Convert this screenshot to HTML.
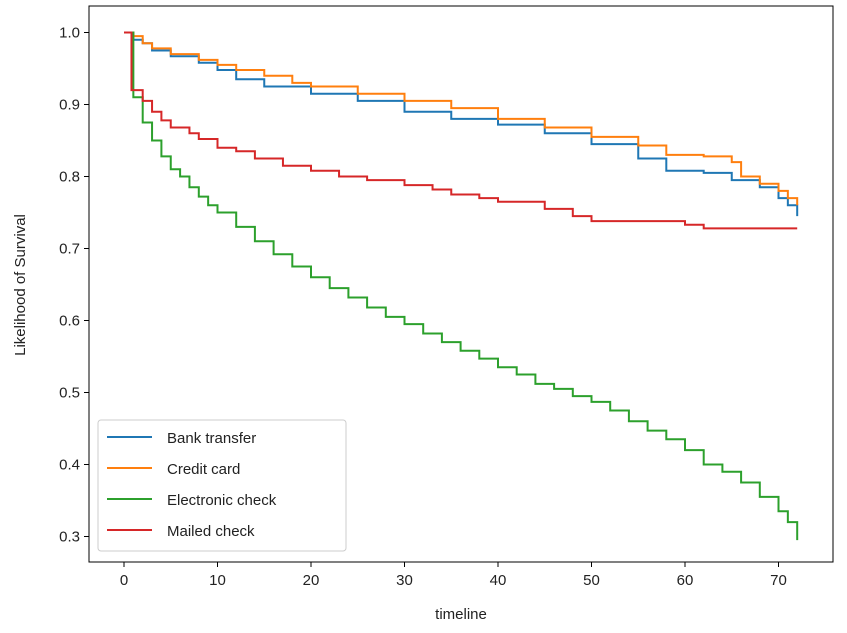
<!DOCTYPE html>
<html><head><meta charset="utf-8"><style>
body{margin:0;background:#fff;}
svg{display:block;font-family:"Liberation Sans","DejaVu Sans",sans-serif;}
</style></head><body>
<svg id="chart" width="847" height="633"></svg>
<script>
const bankT=[0,1,2,3,5,8,10,12,15,20,25,30,35,40,45,50,55,58,62,65,68,70,71,72];
const bankV=[1.0,0.99,0.985,0.975,0.967,0.958,0.948,0.935,0.925,0.915,0.905,0.89,0.88,0.872,0.86,0.845,0.825,0.808,0.805,0.795,0.785,0.77,0.76,0.745];
const creditT=[0,1,2,3,5,8,10,12,15,18,20,25,30,35,40,45,50,55,58,62,65,66,68,70,71,72];
const creditV=[1.0,0.995,0.985,0.978,0.97,0.962,0.955,0.948,0.94,0.93,0.925,0.915,0.905,0.895,0.88,0.868,0.855,0.843,0.83,0.828,0.82,0.8,0.79,0.78,0.77,0.76];
const echeckT=[0,1,2,3,4,5,6,7,8,9,10,12,14,16,18,20,22,24,26,28,30,32,34,36,38,40,42,44,46,48,50,52,54,56,58,60,62,64,66,68,70,71,72];
const echeckV=[1.0,0.91,0.875,0.85,0.828,0.81,0.8,0.785,0.772,0.76,0.75,0.73,0.71,0.692,0.675,0.66,0.645,0.632,0.618,0.605,0.595,0.582,0.57,0.558,0.547,0.535,0.525,0.512,0.505,0.495,0.487,0.475,0.46,0.447,0.435,0.42,0.4,0.39,0.375,0.355,0.335,0.32,0.295];
const mailedT=[0,0.8,2,3,4,5,7,8,10,12,14,17,20,23,26,30,33,35,38,40,45,48,50,55,60,62,72];
const mailedV=[1.0,0.92,0.905,0.89,0.878,0.868,0.86,0.852,0.84,0.835,0.825,0.815,0.808,0.8,0.795,0.788,0.782,0.775,0.77,0.765,0.755,0.745,0.738,0.738,0.733,0.728,0.728];
const seriesNames=["Bank transfer","Credit card","Electronic check","Mailed check"];
const xTicks=[0,10,20,30,40,50,60,70];
const yTicks=[0.3,0.4,0.5,0.6,0.7,0.8,0.9,1.0];

const NS="http://www.w3.org/2000/svg";
const svg=document.getElementById('chart');
const L=89,R=833,T=6,B=562;
const x=t=>124+t*9.35;
const y=v=>32.5+(1.0-v)*720;
function mk(tag,a){const e=document.createElementNS(NS,tag);for(const k in a)e.setAttribute(k,a[k]);svg.appendChild(e);return e;}

const frame=mk('rect',{x:L,y:T,width:R-L,height:B-T,fill:'none',stroke:'#000','stroke-width':1});



xTicks.forEach(t=>{
  const tk=mk('line',{x1:x(t),x2:x(t),y1:B,y2:B+5,stroke:'#000'});
  
  
  const tx=mk('text',{x:x(t),y:B+23,'text-anchor':'middle','font-size':15,fill:'#222'});
  tx.textContent=t;
  
  
});
yTicks.forEach(v=>{
  const tk=mk('line',{x1:L-5,x2:L,y1:y(v),y2:y(v),stroke:'#000'});
  
  
  const tx=mk('text',{x:L-9,y:y(v)+5,'text-anchor':'end','font-size':15,fill:'#222'});
  tx.textContent=v.toFixed(1);
  
  
});
const xl=mk('text',{x:461,y:619,'text-anchor':'middle','font-size':15,fill:'#222'});
xl.textContent='timeline';


const yl=mk('text',{x:0,y:0,'text-anchor':'middle','font-size':15,fill:'#222',transform:'translate(25,285) rotate(-90)'});
yl.textContent='Likelihood of Survival';



const colors=['#1f77b4','#ff7f0e','#2ca02c','#d62728'];
const all=[[bankT,bankV],[creditT,creditV],[echeckT,echeckV],[mailedT,mailedV]];
const lineNames=['bank-transfer-line','credit-card-line','electronic-check-line','mailed-check-line'];
all.forEach((s,i)=>{
  const [ts,vs]=s;
  let d='M'+x(ts[0])+','+y(vs[0]);
  for(let k=1;k<ts.length;k++){d+=' H'+x(ts[k])+' V'+y(vs[k]);}
  const p=mk('path',{d:d,fill:'none',stroke:colors[i],'stroke-width':2});
  
  
});

const lg=mk('rect',{x:98,y:420,width:248,height:131,rx:3,fill:'#fff','fill-opacity':0.8,stroke:'#ccc'});


seriesNames.forEach((n,i)=>{
  const yy=437+i*31;
  const ln=mk('line',{x1:107,x2:152,y1:yy,y2:yy,stroke:colors[i],'stroke-width':2});
  
  
  const tx=mk('text',{x:167,y:yy+6,'font-size':15,fill:'#222'});
  tx.textContent=n;
  
  
});
</script>
</body></html>
